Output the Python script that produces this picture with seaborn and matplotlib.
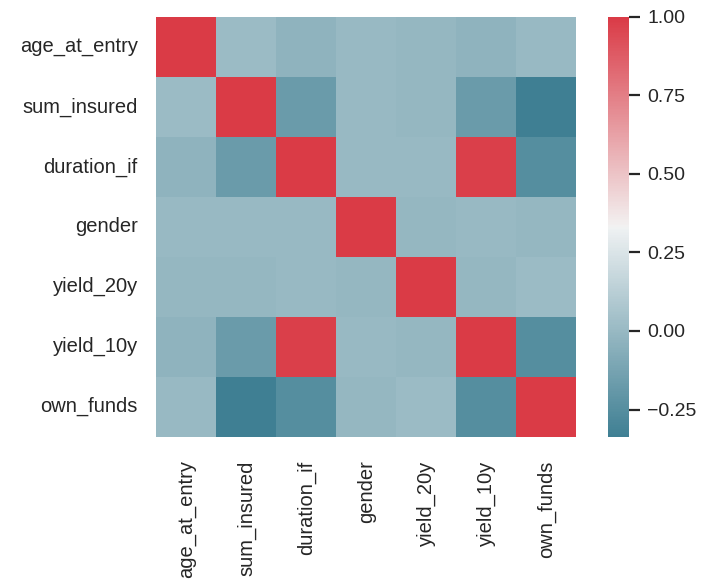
import numpy as np
import pandas as pd
import matplotlib
matplotlib.use("Agg")
import matplotlib.pyplot as plt
import seaborn as sns

# variables and their correlation matrix
columns = ["age_at_entry", "sum_insured", "duration_if", "gender",
           "yield_20y", "yield_10y", "own_funds"]

corr_values = [
    [1.00, 0.01, -0.03, 0.00, -0.01, -0.03, 0.00],
    [0.01, 1.00, -0.17, 0.00, -0.01, -0.17, -0.337],
    [-0.03, -0.17, 1.00, 0.00, 0.00, 0.98, -0.25],
    [0.00, 0.00, 0.00, 1.00, -0.01, 0.00, -0.01],
    [-0.01, -0.01, 0.00, -0.01, 1.00, -0.01, 0.01],
    [-0.03, -0.17, 0.98, 0.00, -0.01, 1.00, -0.25],
    [0.00, -0.337, -0.25, -0.01, 0.01, -0.25, 1.00],
]

corr = pd.DataFrame(corr_values, index=columns, columns=columns)

sns.set_style("white")
plt.rcParams["font.family"] = ["Liberation Sans", "DejaVu Sans"]

fig = plt.figure(figsize=(7.02, 5.84), dpi=100)
ax = fig.add_axes([0.222, 0.252, 0.600, 0.719])
cax = fig.add_axes([0.866, 0.252, 0.030, 0.719])

cmap = sns.diverging_palette(220, 10, as_cmap=True)
sns.heatmap(corr, cmap=cmap, square=True, ax=ax, cbar_ax=cax)

ax.tick_params(axis="both", length=0, labelsize=14.5, colors="#262626")
ax.tick_params(axis="x", pad=17)
ax.tick_params(axis="y", pad=13.5)
ax.set_xticklabels(columns, rotation=90)
ax.set_yticklabels(columns, rotation=0)

cax.tick_params(length=8, width=1.6, pad=5, labelsize=14, colors="#262626")
cax.set_yticks([-0.25, 0.0, 0.25, 0.5, 0.75, 1.0])

fig.savefig("out.png", dpi=100)
